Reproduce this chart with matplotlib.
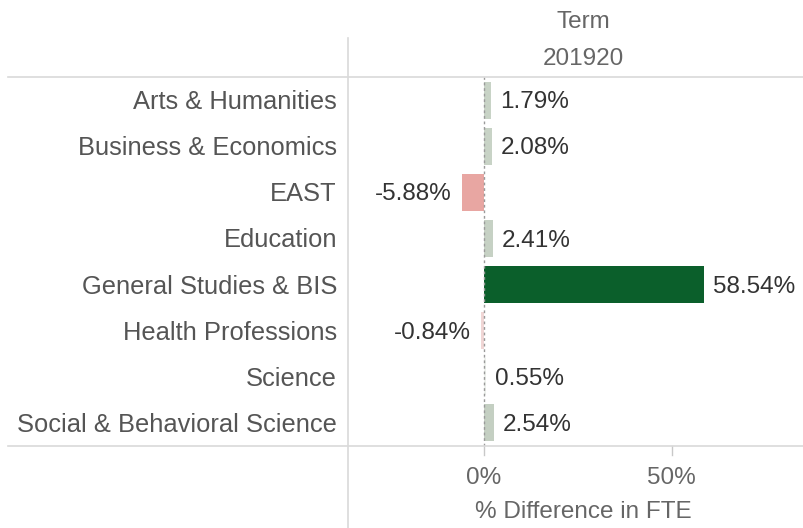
import matplotlib
matplotlib.use("Agg")
import matplotlib.pyplot as plt
from matplotlib.lines import Line2D

plt.rcParams['font.family'] = ['Liberation Sans', 'DejaVu Sans']

categories = ["Arts & Humanities", "Business & Economics", "EAST", "Education",
              "General Studies & BIS", "Health Professions", "Science",
              "Social & Behavioral Science"]
values = [1.79, 2.08, -5.88, 2.41, 58.54, -0.84, 0.55, 2.54]
bar_colors = ["#c8d3c6", "#c8d3c6", "#e8a6a2", "#c6d1c4", "#0b5f2b",
              "#f0d6d5", "#edf0ec", "#c4cfc2"]
xticks = [0, 50]
xtick_labels = ["0%", "50%"]
header_title = "Term"
header_value = "201920"
x_title = "% Difference in FTE"

W, H = 804, 528
fig = plt.figure(figsize=(W / 100, H / 100), dpi=100)

def fx(px):
    return px / W

def fy(py):
    return 1 - py / H

ax_left, ax_right, ax_top, ax_bottom = 348, 804, 77, 446
ax = fig.add_axes([fx(ax_left), fy(ax_bottom), fx(ax_right - ax_left), (ax_bottom - ax_top) / H])

n = len(categories)
ypos = list(range(n))
ax.barh(ypos, values, height=0.8, color=bar_colors, zorder=2)
ax.set_ylim(n - 0.5, -0.5)
ax.set_xlim(-36.3, 85.3)
ax.axvline(0, color="#9a9a9a", lw=1, ls=(0, (2, 2)), zorder=3)
for s in ax.spines.values():
    s.set_visible(False)
ax.set_xticks([])
ax.set_yticks([])

dy = -1.5  # points, shift text downward slightly
for y, v in zip(ypos, values):
    if v >= 0:
        ax.annotate(f"{v:.2f}%", (v, y), xytext=(6.5, dy), textcoords="offset points",
                    ha="left", va="center", fontsize=17.5, color="#333333")
    else:
        ax.annotate(f"{v:.2f}%", (v, y), xytext=(-7.5, dy), textcoords="offset points",
                    ha="right", va="center", fontsize=17.5, color="#333333")

# row labels
row_h = (ax_bottom - ax_top) / n
for i, c in enumerate(categories):
    yc = ax_top + row_h * (i + 0.5) + 2
    fig.text(fx(337), fy(yc), c, ha="right", va="center", fontsize=18.4, color="#555555")

# grid lines
lc = "#d9d9d9"
fig.add_artist(Line2D([fx(8), fx(804)], [fy(ax_top), fy(ax_top)], color=lc, lw=1.2))
fig.add_artist(Line2D([fx(8), fx(804)], [fy(ax_bottom), fy(ax_bottom)], color=lc, lw=1.2))
fig.add_artist(Line2D([fx(348), fx(348)], [fy(38), fy(528)], color=lc, lw=1.2))

# ticks and tick labels
trans = ax.get_xaxis_transform()
for t, lab in zip(xticks, xtick_labels):
    ax.plot([t, t], [0, -0.025], transform=trans, color="#c8c8c8", lw=1, clip_on=False)
    ax.text(t, -0.086, lab, transform=trans, ha="center", va="center",
            fontsize=17.5, color="#666666")

fig.text(fx(583), fy(512), x_title, ha="center", va="center", fontsize=17.5, color="#666666")
fig.text(fx(583), fy(22), header_title, ha="center", va="center", fontsize=17.5, color="#666666")
fig.text(fx(583), fy(59), header_value, ha="center", va="center", fontsize=17.5, color="#666666")

fig.savefig("out.png", dpi=100, facecolor="white")
